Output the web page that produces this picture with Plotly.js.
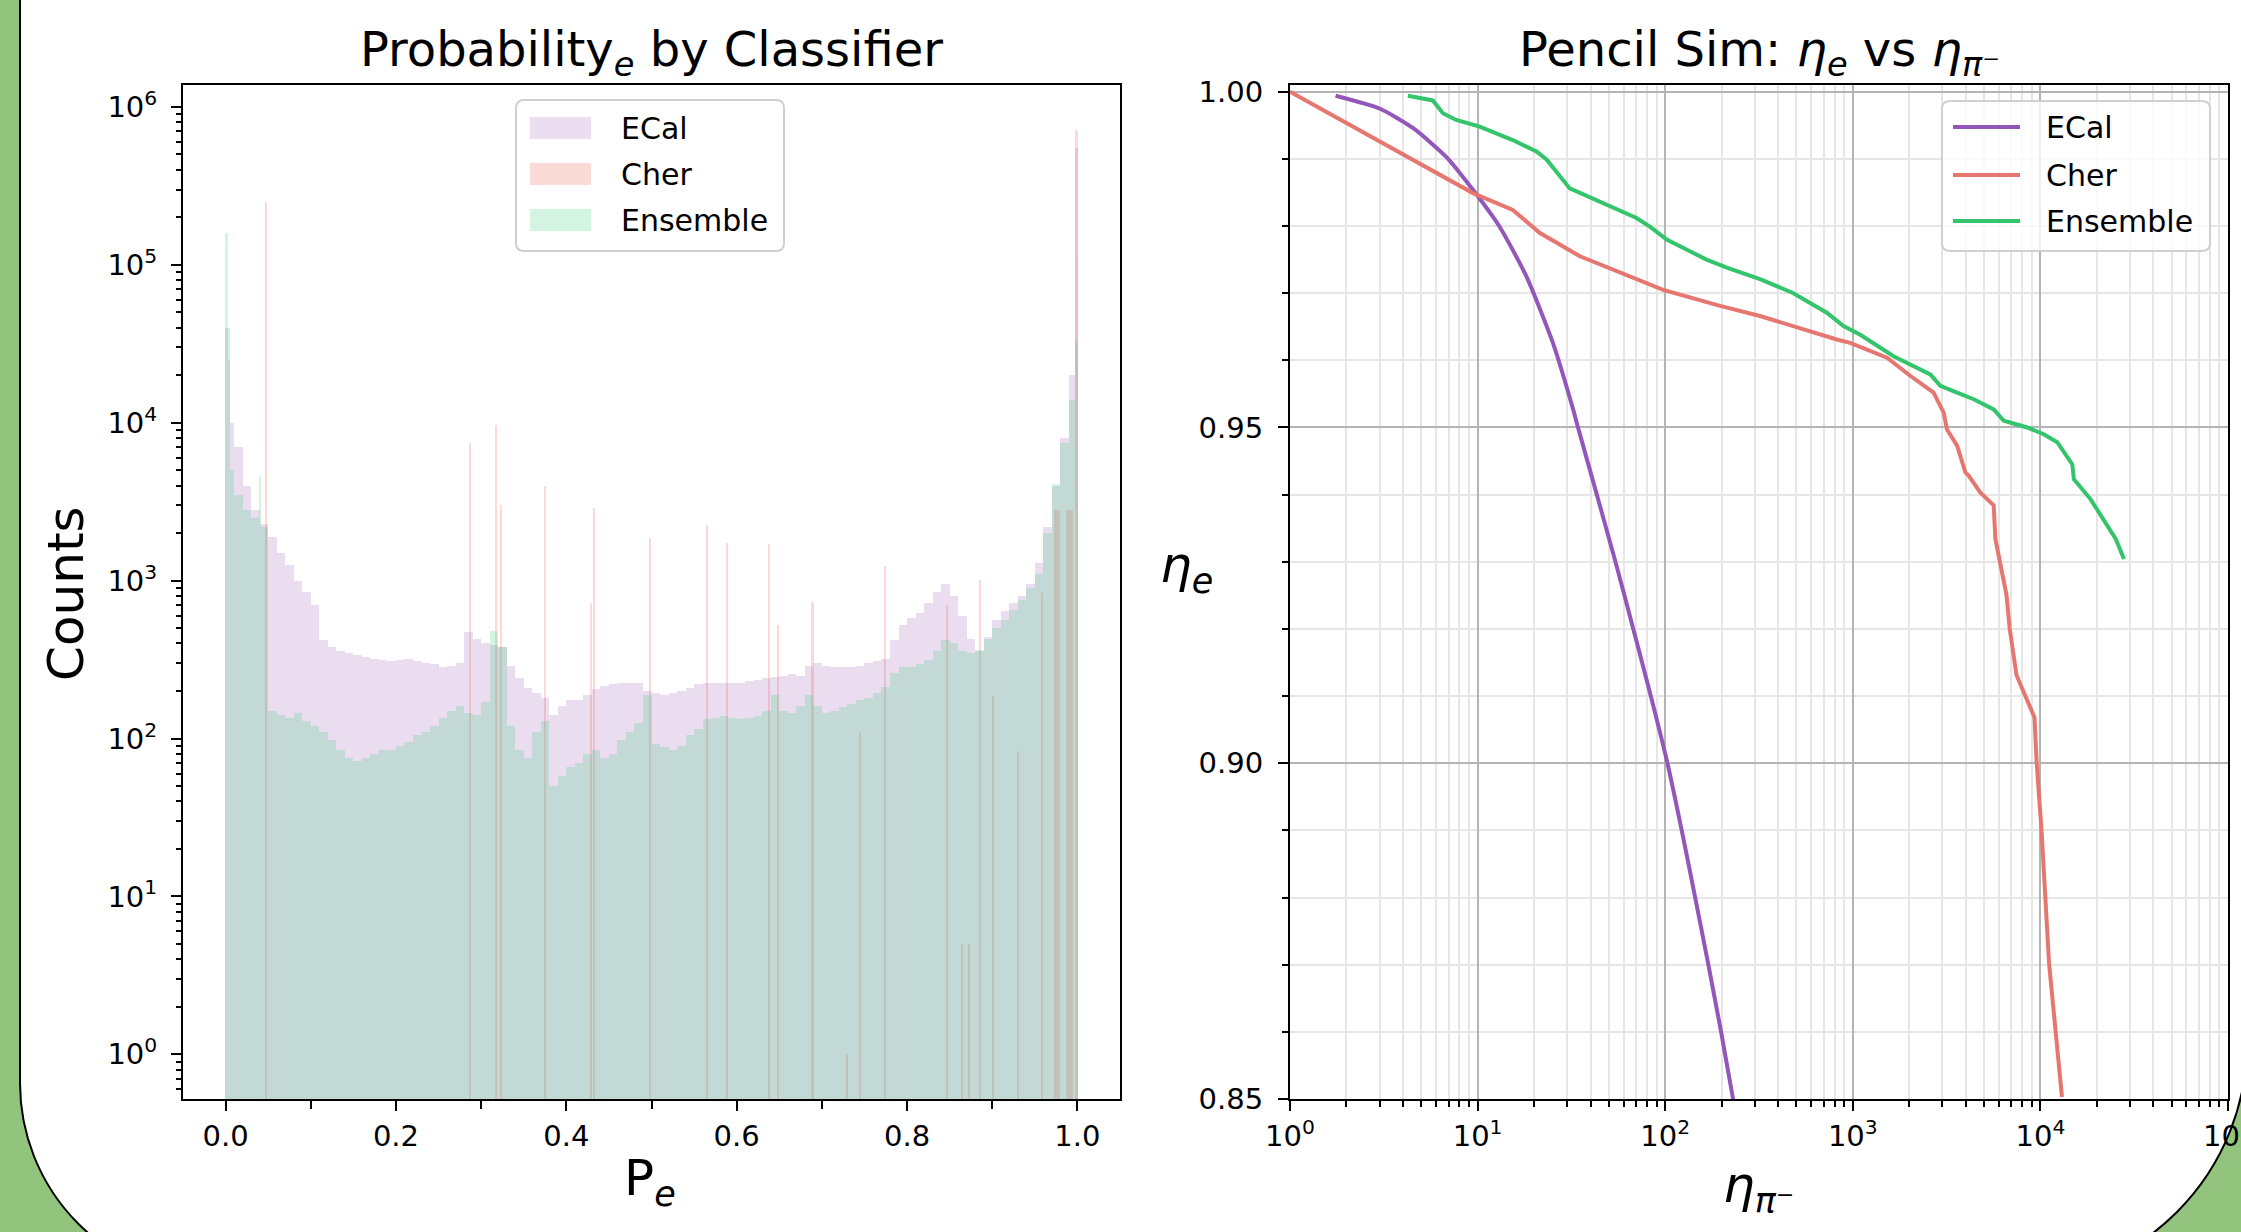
<!DOCTYPE html>
<html>
<head>
<meta charset="utf-8">
<script src="https://cdn.plot.ly/plotly-3.0.1.min.js"></script>
<style>
  html, body { margin:0; padding:0; }
  body { width:2241px; height:1232px; overflow:hidden; position:relative; background:#93c47d; }
  #frame { position:absolute; left:19px; top:-60px; width:2229px; height:1343px; box-sizing:border-box;
           background:#ffffff; border:2px solid #000; border-bottom-left-radius:200px; border-bottom-right-radius:240px; }
  #plot { position:relative; width:2241px; height:1232px; }
</style>
</head>
<body>
<div id="frame"></div>
<div id="plot"></div>
<script>
// ---------------- DATA ----------------
// Left panel: histogram of P_e, base bins of width 0.01 from 0 to 1
const histBinCount = 100;
const ecalCounts = [
  10000, 7000, 4000, 2800, 2300, 1900, 1500, 1250, 1000, 850,
  700, 420, 380, 360, 350, 340, 330, 320, 315, 310,
  315, 320, 310, 300, 295, 285, 290, 300, 470, 430,
  400, 390, 380, 290, 240, 210, 195, 180, 140, 160,
  175, 175, 190, 205, 215, 220, 225, 225, 225, 200,
  195, 190, 195, 200, 210, 220, 225, 225, 225, 225,
  225, 230, 235, 240, 245, 250, 255, 250, 290, 300,
  290, 285, 285, 285, 290, 300, 310, 320, 420, 520,
  580, 620, 720, 850, 950, 800, 600, 430, 360, 440,
  560, 640, 720, 800, 950, 1300, 2200, 4000, 8000, 20000
];
const ensembleCounts = [
  5000, 3500, 2800, 2500, 2200, 150, 140, 135, 145, 130,
  120, 110, 98, 85, 75, 72, 75, 80, 85, 85,
  90, 95, 105, 110, 120, 135, 150, 160, 145, 140,
  170, 480, 380, 120, 85, 75, 110, 130, 50, 58,
  66, 70, 80, 85, 75, 80, 98, 110, 125, 190,
  93, 88, 85, 90, 105, 115, 132, 135, 138, 135,
  132, 135, 138, 150, 190, 150, 145, 160, 190, 160,
  145, 150, 159, 165, 176, 180, 194, 213, 260, 285,
  285, 295, 315, 360, 420, 400, 360, 350, 365, 430,
  500, 565, 650, 755, 900, 1100, 2000, 4100, 7400, 14000
];
// narrow single-bin peaks
const ecalPeakP = [0.001, 0.0035, 0.999];
const ecalPeakCounts = [40000, 25000, 550000];
const ensemblePeakP = [0.001, 0.0035, 0.040, 0.999];
const ensemblePeakCounts = [160000, 40000, 4600, 33000];
// Cher output is concentrated in discrete values
const cherP = [0.047, 0.287, 0.317, 0.323, 0.375, 0.429, 0.433, 0.498, 0.565, 0.589,
               0.638, 0.649, 0.689, 0.729, 0.745, 0.774, 0.847, 0.865, 0.873, 0.886,
               0.901, 0.930, 0.958, 0.976, 0.991, 0.999];
const cherCounts = [250000, 7400, 9700, 3000, 4000, 720, 2900, 1870, 2260, 1740,
                    1700, 525, 736, 1, 108, 1230, 700, 5, 5, 1010,
                    185, 83, 832, 2800, 2800, 710000];

// Right panel: efficiency curves
const ecalPion = [1.75, 3.0, 4.52, 6.8, 9.44, 13.1, 18.2, 25.2, 32.3, 34.3, 43.2, 54.3, 67.6, 83.8, 102.8, 122.5, 144.5, 169.8, 198.6, 230];
const ecalEff  = [0.9994, 0.9975, 0.9946, 0.9903, 0.9854, 0.9799, 0.9725, 0.9626, 0.9527, 0.9500, 0.9400, 0.9300, 0.9200, 0.9100, 0.9000, 0.8900, 0.8800, 0.8700, 0.8600, 0.8500];
const cherPion = [1.0, 9.44, 15.4, 21.4, 35.1, 52.8, 97.6, 196, 320, 822, 968, 1521, 2023, 2696, 3050, 3178, 3596, 3983, 4150, 4790, 5636, 5755, 6600, 6855, 7460, 9300, 9550, 10140, 11130, 13030];
const cherEff  = [1.0000, 0.9849, 0.9824, 0.9790, 0.9755, 0.9735, 0.9705, 0.9681, 0.9666, 0.9631, 0.9626, 0.9604, 0.9577, 0.9552, 0.9522, 0.9497, 0.9473, 0.9433, 0.9428, 0.9403, 0.9384, 0.9334, 0.9250, 0.9201, 0.9131, 0.9068, 0.9001, 0.8900, 0.8701, 0.8503];
const ensPion = [4.25, 5.1, 5.77, 6.53, 7.69, 10.25, 15.4, 20.6, 23.3, 31, 43, 70.3, 82.8, 101.8, 166, 213, 320, 482, 727, 892, 1096, 1649, 2589, 2930, 3596, 4410, 5636, 6380, 8510, 10420, 12300, 14790, 15080, 18530, 25200, 27900];
const ensEff  = [0.9994, 0.9990, 0.9987, 0.9968, 0.9958, 0.9948, 0.9928, 0.9911, 0.9899, 0.9856, 0.9839, 0.9812, 0.9799, 0.9780, 0.9750, 0.9738, 0.9721, 0.9700, 0.9671, 0.9651, 0.9638, 0.9606, 0.9579, 0.9562, 0.9552, 0.9542, 0.9527, 0.9510, 0.9500, 0.9490, 0.9478, 0.9445, 0.9423, 0.9393, 0.9334, 0.9304];

const seriesNames = ['ECal', 'Cher', 'Ensemble'];
const logTickVals = [1, 10, 100, 1000, 10000, 100000, 1000000];
const logTickText = ['10<sup>0</sup>', '10<sup>1</sup>', '10<sup>2</sup>', '10<sup>3</sup>', '10<sup>4</sup>', '10<sup>5</sup>', '10<sup>6</sup>'];
const pionTickVals = [1, 10, 100, 1000, 10000, 100000];
const pionTickText = ['10<sup>0</sup>', '10<sup>1</sup>', '10<sup>2</sup>', '10<sup>3</sup>', '10<sup>4</sup>', '10<sup>5</sup>'];

// ---------------- STYLE ----------------
const W = 2241, H = 1232;
const FONT = 'DejaVu Sans, sans-serif';
const colors = { ECal: '#9b59b6', Cher: '#e74c3c', Ensemble: '#2ecc71' };
const lineColors = { ECal: '#9257b8', Cher: '#e67670', Ensemble: '#33c46c' };
const histAlpha = 0.2;
const baseW = 1 / histBinCount;
const peakW = 0.0025;
const X = p => p / W;
const Y = p => 1 - p / H;

function histTrace(name, counts, peakP, peakCounts, peakWidth) {
  const xs = [], ys = [], ws = [];
  counts.forEach((c, i) => { xs.push((i + 0.5) * baseW); ys.push(c); ws.push(baseW); });
  peakP.forEach((p, i) => { xs.push(p); ys.push(peakCounts[i]); ws.push(peakWidth ? peakWidth[i] : peakW); });
  return { type: 'bar', name, x: xs, y: ys, width: ws, xaxis: 'x', yaxis: 'y',
           marker: { color: colors[name], line: { width: 0 } }, opacity: histAlpha,
           showlegend: false, hoverinfo: 'skip' };
}
const cherWidths = cherP.map((p, i) => (i === 1 ? 0.0009 : (p > 0.97 && p < 0.995 ? 0.008 : peakW)));

const traces = [
  histTrace('ECal', ecalCounts, ecalPeakP, ecalPeakCounts),
  histTrace('Cher', [], cherP, cherCounts, cherWidths),
  histTrace('Ensemble', ensembleCounts, ensemblePeakP, ensemblePeakCounts),
  { type: 'scatter', mode: 'lines', name: 'ECal', x: ecalPion, y: ecalEff, xaxis: 'x2', yaxis: 'y2',
    line: { color: lineColors.ECal, width: 4, shape: 'spline', smoothing: 0.6 }, showlegend: false },
  { type: 'scatter', mode: 'lines', name: 'Cher', x: cherPion, y: cherEff, xaxis: 'x2', yaxis: 'y2',
    line: { color: lineColors.Cher, width: 4 }, showlegend: false },
  { type: 'scatter', mode: 'lines', name: 'Ensemble', x: ensPion, y: ensEff, xaxis: 'x2', yaxis: 'y2',
    line: { color: lineColors.Ensemble, width: 4 }, showlegend: false }
];

const tickFont = { family: FONT, size: 29, color: '#000' };
const axisCommon = { showline: true, linecolor: '#000', linewidth: 2, mirror: true, ticks: 'outside',
                     ticklen: 10, tickwidth: 2, tickcolor: '#000', tickfont: tickFont, zeroline: false,
                     ticklabeloverflow: 'allow' };

// manual legends
function roundRect(x0, y0, x1, y1, r) {
  const a = X(x0), b = X(x1), c = Y(y0), d = Y(y1), rx = r / W, ry = r / H;
  return `M${a + rx},${c} L${b - rx},${c} Q${b},${c} ${b},${c - ry} L${b},${d + ry} Q${b},${d} ${b - rx},${d} ` +
         `L${a + rx},${d} Q${a},${d} ${a},${d + ry} L${a},${c - ry} Q${a},${c} ${a + rx},${c} Z`;
}
const shapes = [];
const annotations = [];
const legendRowsY = [128, 174, 220];
// left legend
shapes.push({ type: 'path', xref: 'paper', yref: 'paper', path: roundRect(516, 100, 784, 251, 8),
              fillcolor: 'rgba(255,255,255,0.8)', line: { color: '#d0d0d0', width: 2 } });
seriesNames.forEach((n, i) => {
  shapes.push({ type: 'rect', xref: 'paper', yref: 'paper', x0: X(530), x1: X(591),
                y0: Y(legendRowsY[i] - 11), y1: Y(legendRowsY[i] + 11),
                fillcolor: colors[n], opacity: histAlpha, line: { width: 0 } });
  annotations.push({ xref: 'paper', yref: 'paper', x: X(619), y: Y(legendRowsY[i]), xanchor: 'left', yanchor: 'middle',
                     text: n, showarrow: false, font: { family: FONT, size: 30, color: '#000' } });
});
// right legend
shapes.push({ type: 'path', xref: 'paper', yref: 'paper', path: roundRect(1942, 101, 2210, 251, 8),
              fillcolor: 'rgba(255,255,255,0.8)', line: { color: '#d0d0d0', width: 2 } });
const legendRowsY2 = [127, 175, 221];
seriesNames.forEach((n, i) => {
  shapes.push({ type: 'line', xref: 'paper', yref: 'paper', x0: X(1953), x1: X(2020),
                y0: Y(legendRowsY2[i]), y1: Y(legendRowsY2[i]), line: { color: lineColors[n], width: 4 } });
  annotations.push({ xref: 'paper', yref: 'paper', x: X(2044), y: Y(legendRowsY2[i]), xanchor: 'left', yanchor: 'middle',
                     text: n, showarrow: false, font: { family: FONT, size: 30, color: '#000' } });
});

// titles and axis labels
const titleFont = { family: FONT, size: 48, color: '#000' };
const labelFont = { family: FONT, size: 50, color: '#000' };
annotations.push(
  { xref: 'paper', yref: 'paper', x: X(651.5), y: Y(52), xanchor: 'center', yanchor: 'middle', showarrow: false,
    text: 'Probability<sub><i>e</i></sub> by Classifier', font: titleFont },
  { xref: 'paper', yref: 'paper', x: X(1759), y: Y(52), xanchor: 'center', yanchor: 'middle', showarrow: false,
    text: 'Pencil Sim: <i>η</i><sub><i>e</i></sub> vs <i>η</i><sub><i>π</i>⁻</sub>', font: titleFont },
  { xref: 'paper', yref: 'paper', x: X(66), y: Y(594), xanchor: 'center', yanchor: 'middle', showarrow: false,
    textangle: -90, text: 'Counts', font: labelFont },
  { xref: 'paper', yref: 'paper', x: X(650), y: Y(1181), xanchor: 'center', yanchor: 'middle', showarrow: false,
    text: 'P<sub><i>e</i></sub>', font: labelFont },
  { xref: 'paper', yref: 'paper', x: X(1758), y: Y(1188), xanchor: 'center', yanchor: 'middle', showarrow: false,
    text: '<i>η</i><sub><i>π</i>⁻</sub>', font: labelFont },
  { xref: 'paper', yref: 'paper', x: X(1186), y: Y(568), xanchor: 'center', yanchor: 'middle', showarrow: false,
    text: '<i>η</i><sub><i>e</i></sub>', font: labelFont }
);

const layout = {
  width: W, height: H,
  margin: { l: 0, r: 0, t: 0, b: 0, pad: 0 },
  paper_bgcolor: 'rgba(0,0,0,0)', plot_bgcolor: '#ffffff',
  barmode: 'overlay', bargap: 0,
  showlegend: false,
  font: { family: FONT, color: '#000' },
  xaxis: Object.assign({}, axisCommon, {
    domain: [X(183), X(1120)], range: [-0.05, 1.05], tick0: 0, dtick: 0.2, tickformat: '.1f',
    showgrid: false, anchor: 'y',
    minor: { dtick: 0.1, tick0: 0, ticks: 'outside', ticklen: 8, tickwidth: 2, tickcolor: '#000', showgrid: false }
  }),
  yaxis: Object.assign({}, axisCommon, {
    domain: [Y(1099), Y(85)], type: 'log', range: [-0.283, 6.139], tickmode: 'array',
    tickvals: logTickVals, ticktext: logTickText, showgrid: false, anchor: 'x', ticklabelstandoff: 8,
    minor: { dtick: 'D1', ticks: 'outside', ticklen: 5, tickwidth: 1.5, tickcolor: '#000', showgrid: false }
  }),
  xaxis2: Object.assign({}, axisCommon, {
    domain: [X(1290), X(2228)], type: 'log', range: [0, 5], tickmode: 'array',
    tickvals: pionTickVals, ticktext: pionTickText, anchor: 'y2',
    showgrid: true, gridcolor: '#b4b4b4', gridwidth: 2,
    minor: { dtick: 'D1', ticks: 'outside', ticklen: 6, tickwidth: 1.5, tickcolor: '#000',
             showgrid: true, gridcolor: '#e6e6e6', gridwidth: 2 }
  }),
  yaxis2: Object.assign({}, axisCommon, {
    domain: [Y(1099), Y(85)], range: [0.85, 1.001], tick0: 0.85, dtick: 0.05, tickformat: '.2f', anchor: 'x2',
    showgrid: true, gridcolor: '#b4b4b4', gridwidth: 2, ticklabelstandoff: 9,
    minor: { dtick: 0.01, tick0: 0.85, ticks: 'outside', ticklen: 6, tickwidth: 1.5, tickcolor: '#000',
             showgrid: true, gridcolor: '#e6e6e6', gridwidth: 2 }
  }),
  shapes, annotations
};

Plotly.newPlot('plot', traces, layout, { displayModeBar: false });
</script>
</body>
</html>
